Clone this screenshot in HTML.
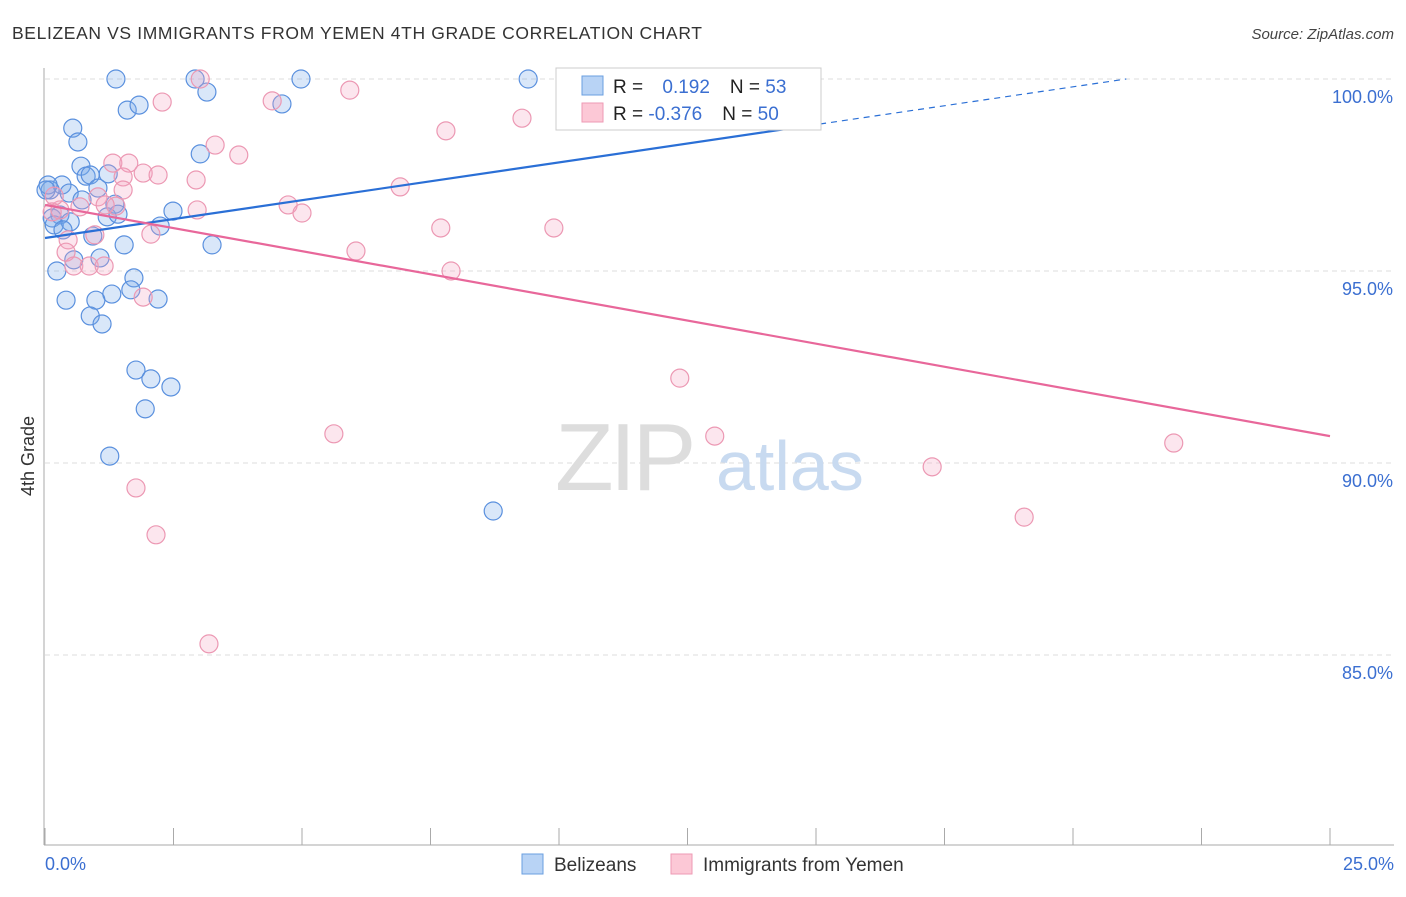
<!DOCTYPE html>
<html><head><meta charset="utf-8"><style>
body{margin:0;background:#fff;font-family:"Liberation Sans",sans-serif;}
svg text{font-family:"Liberation Sans",sans-serif;}
</style></head><body>
<svg id="chart" width="1406" height="892" xmlns="http://www.w3.org/2000/svg">
<text x="12" y="39" font-size="17.5" fill="#333" textLength="690">BELIZEAN VS IMMIGRANTS FROM YEMEN 4TH GRADE CORRELATION CHART</text>
<text x="1394" y="39" font-size="15" fill="#444" text-anchor="end" font-style="italic">Source: ZipAtlas.com</text>
<text transform="translate(34,456) rotate(-90)" font-size="18" fill="#333" text-anchor="middle">4th Grade</text>
<g id="grid"></g>
<text x="555" y="490" font-size="96" fill="#ddd" font-family="Liberation Serif" letter-spacing="-4">ZIP</text>
<text x="716" y="490" font-size="70" fill="#c8daf0">atlas</text>
<g id="pts"></g>
<g id="trend"></g>
<g>
<rect x="556" y="68" width="265" height="62" fill="#fff" stroke="#ccc"/>
<rect x="582" y="76" width="21" height="19" fill="#b8d3f5" stroke="#6a9fe0"/>
<rect x="582" y="103" width="21" height="19" fill="#fcc8d6" stroke="#ee9ab4"/>
<text x="613" y="93" font-size="19" fill="#222">R = <tspan fill="#3b6fd1" dx="14">0.192</tspan><tspan dx="20">N = </tspan><tspan fill="#3b6fd1">53</tspan></text>
<text x="613" y="120" font-size="19" fill="#222">R = <tspan fill="#3b6fd1">-0.376</tspan><tspan dx="20">N = </tspan><tspan fill="#3b6fd1">50</tspan></text>
</g>
<g>
<rect x="522" y="854" width="21" height="20" fill="#b8d3f5" stroke="#6a9fe0"/>
<text x="554" y="871" font-size="19" fill="#333">Belizeans</text>
<rect x="671" y="854" width="21" height="20" fill="#fcc8d6" stroke="#ee9ab4"/>
<text x="703" y="871" font-size="19" fill="#333">Immigrants from Yemen</text>
</g>
</svg>
<script>
const xTickVals=[0,2.5,5,7.5,10,12.5,15,17.5,20,22.5,25];
const yTickVals=[100,95,90,85];
const yTickLabels=["100.0%","95.0%","90.0%","85.0%"];
const xEndLabels=["0.0%","25.0%"];
const blueX=[1.38,2.92,4.98,9.40,10.12,3.15,1.60,1.83,4.61,0.54,0.64,3.02,0.70,0.80,1.23,0.88,1.03,0.33,0.10,0.06,0.47,1.36,0.72,0.93,1.21,0.29,0.14,0.18,0.49,0.35,1.42,2.49,2.24,1.54,3.25,1.07,0.56,0.23,1.73,1.67,1.30,0.99,0.41,2.20,0.88,1.11,1.77,2.06,2.45,1.95,1.26,8.72,0.02];
const blueY=[100,100,100,100,100,99.66,99.19,99.32,99.35,98.72,98.36,98.05,97.73,97.47,97.53,97.50,97.16,97.24,97.11,97.24,97.03,96.74,96.85,95.91,96.41,96.46,96.38,96.20,96.28,96.07,96.48,96.56,96.17,95.68,95.68,95.34,95.29,95.0,94.82,94.51,94.40,94.24,94.24,94.27,93.83,93.62,92.42,92.19,91.98,91.41,90.18,88.75,97.11];
const pinkX=[3.02,5.93,2.28,4.42,7.80,9.28,3.31,3.77,1.32,1.63,1.91,2.20,1.52,2.94,6.91,1.03,1.38,0.68,0.14,0.29,4.73,5.0,2.96,0.97,2.06,7.70,9.90,0.45,0.41,6.05,0.56,0.86,1.15,7.90,1.91,12.35,5.62,13.03,21.96,17.26,1.77,19.05,2.16,3.19,0.18,1.17,1.52];
const pinkY=[100,99.71,99.40,99.43,98.65,98.98,98.28,98.02,97.81,97.81,97.55,97.50,97.45,97.37,97.19,96.93,96.69,96.67,96.54,96.59,96.72,96.51,96.59,95.94,95.96,96.12,96.12,95.81,95.49,95.52,95.13,95.13,95.13,95.0,94.32,92.21,90.76,90.70,90.52,89.90,89.35,88.59,88.13,85.29,96.95,96.72,97.11];
const blueTrend=[95.86,100.78];
const pinkTrend=[96.72,90.70];
const blueSolidEnd=15.08;

const NS="http://www.w3.org/2000/svg";
const X=v=>45+v/25*1285;
const Y=v=>79+(100-v)*38.4;
function mk(tag,attrs,parent){const e=document.createElementNS(NS,tag);for(const k in attrs)e.setAttribute(k,attrs[k]);parent.appendChild(e);return e;}
const grid=document.getElementById('grid');
yTickVals.forEach((v,i)=>{
  const l=mk('line',{x1:45,x2:1394,y1:Y(v),y2:Y(v),stroke:'#ddd','stroke-dasharray':'5,4'},grid);
  
  
  const t=mk('text',{x:1393,y:Y(v)+24,'font-size':18,fill:'#3b6fd1','text-anchor':'end'},grid);
  t.textContent=yTickLabels[i];
  
  
});
const ax=mk('line',{x1:44,x2:44,y1:68,y2:845,stroke:'#aaa'},grid);


const bx=mk('line',{x1:44,x2:1394,y1:845,y2:845,stroke:'#aaa'},grid);


xTickVals.forEach(v=>{
  const t=mk('line',{x1:X(v),x2:X(v),y1:828,y2:845,stroke:'#aaa'},grid);
  
  
});
[[0,'start',45],[25,'end',1394]].forEach((a,i)=>{
  const t=mk('text',{x:a[2],y:870,'font-size':18,fill:'#3b6fd1','text-anchor':a[1]},grid);
  t.textContent=xEndLabels[i];
  
  
});
const pts=document.getElementById('pts');
blueX.forEach((x,i)=>{
  const c=mk('circle',{cx:X(x),cy:Y(blueY[i]),r:9,fill:'rgba(120,170,235,0.28)',stroke:'#5a90de','stroke-width':1.2},pts);
  
  
});
pinkX.forEach((x,i)=>{
  const c=mk('circle',{cx:X(x),cy:Y(pinkY[i]),r:9,fill:'rgba(245,165,195,0.28)',stroke:'#ec98b3','stroke-width':1.2},pts);
  
  
});
const tr=document.getElementById('trend');
const by=v=>blueTrend[0]+(blueTrend[1]-blueTrend[0])*v/25;
const b1=mk('line',{x1:X(0),y1:Y(by(0)),x2:X(blueSolidEnd),y2:Y(by(blueSolidEnd)),stroke:'#2a6fd6','stroke-width':2.2},tr);


const xEndDash=(100-blueTrend[0])/(blueTrend[1]-blueTrend[0])*25;
const b2=mk('line',{x1:X(blueSolidEnd),y1:Y(by(blueSolidEnd)),x2:X(xEndDash),y2:Y(100),stroke:'#2a6fd6','stroke-width':1.2,'stroke-dasharray':'6,5'},tr);


const p1=mk('line',{x1:X(0),y1:Y(pinkTrend[0]),x2:X(25),y2:Y(pinkTrend[1]),stroke:'#e8679a','stroke-width':2.2},tr);


</script>
</body></html>
